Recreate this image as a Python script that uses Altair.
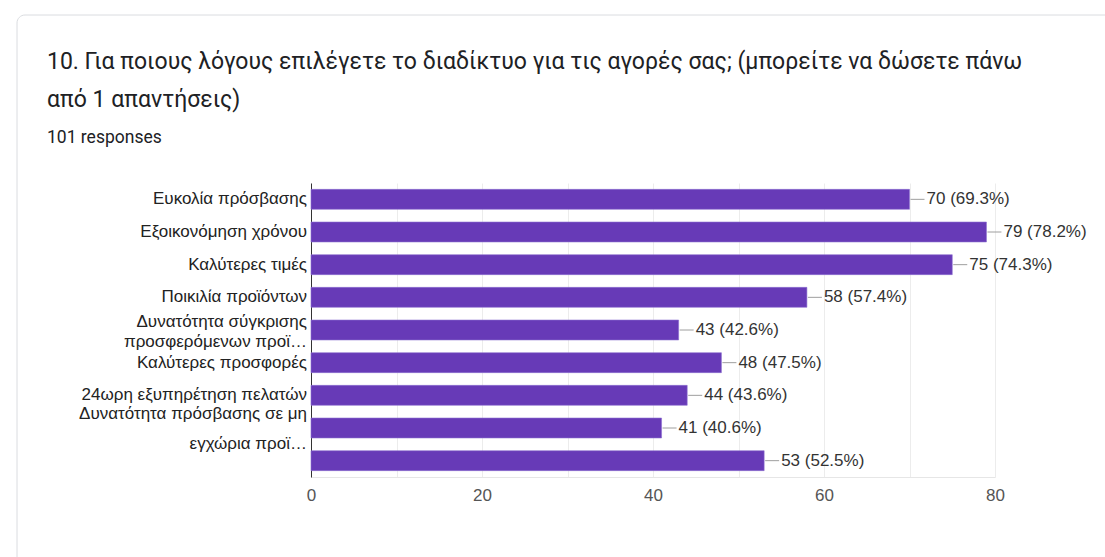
import altair as alt
import pandas as pd

title_lines = [
    "10. Για ποιους λόγους επιλέγετε το διαδίκτυο για τις αγορές σας; (μπορείτε να δώσετε πάνω",
    "από 1 απαντήσεις)",
]
subtitle = "101 responses"

keys = ["c1", "c2", "c3", "c4", "c5", "c6", "c7", "c8", "c9"]
labels = [
    "Ευκολία πρόσβασης",
    "Εξοικονόμηση χρόνου",
    "Καλύτερες τιμές",
    "Ποικιλία προϊόντων",
    "Δυνατότητα σύγκρισης\nπροσφερόμενων προϊ…",
    "Καλύτερες προσφορές",
    "24ωρη εξυπηρέτηση πελατών",
    "Δυνατότητα πρόσβασης σε μη\nεγχώρια προϊ…",
    "",
]
counts = [70, 79, 75, 58, 43, 48, 44, 41, 53]
percents = [69.3, 78.2, 74.3, 57.4, 42.6, 47.5, 43.6, 40.6, 52.5]
wide_spacing = [False, False, False, False, False, False, False, True, False]

df = pd.DataFrame({
    "key": keys,
    "label": labels,
    "count": counts,
    "pct": percents,
    "wide": wide_spacing,
})
df["vlabel"] = [f"{c} ({p}%)" for c, p in zip(counts, percents)]

FONT = "Liberation Sans"
PURPLE = "#673ab7"
FS = 17

y_enc = alt.Y(
    "key:N",
    sort=keys,
    scale=alt.Scale(paddingInner=0.39, paddingOuter=0.195),
    axis=alt.Axis(labels=False, ticks=False, title=None, domain=True,
                  domainColor="#333333", domainWidth=1, grid=False),
)
x_scale = alt.Scale(domain=[0, 80], nice=False)

base = alt.Chart(df)

bars = base.mark_bar(color=PURPLE, stroke="#8c6fd0", strokeWidth=0.6).encode(
    x=alt.X(
        "count:Q",
        scale=x_scale,
        axis=alt.Axis(
            values=[0, 10, 20, 30, 40, 50, 60, 70, 80],
            labelExpr="datum.value % 20 == 0 ? datum.label : ''",
            title=None,
            ticks=False,
            domain=True,
            domainColor="#e6e6e6",
            grid=True,
            gridColor="#ececec",
            labelFont=FONT,
            labelFontSize=FS,
            labelColor="#555555",
            labelPadding=10,
            labelFlush=False,
        ),
    ),
    y=y_enc,
)

leaders = base.mark_rule(color="#9e9e9e", strokeWidth=1, xOffset=1, x2Offset=15).encode(
    x=alt.X("count:Q", scale=x_scale),
    x2="count:Q",
    y=alt.Y("key:N", sort=keys),
)

values = base.mark_text(align="left", baseline="middle", dx=17, font=FONT,
                        fontSize=FS, color="#333333").encode(
    x=alt.X("count:Q", scale=x_scale),
    y=alt.Y("key:N", sort=keys),
    text="vlabel:N",
)

cat_single = base.transform_filter("!datum.wide && indexof(datum.label, '\\n') < 0").mark_text(
    align="right", baseline="middle", font=FONT, fontSize=FS, color="#222222",
).encode(
    x=alt.value(-4),
    y=alt.Y("key:N", sort=keys),
    text="label:N",
)

cat_double = base.transform_filter("!datum.wide && indexof(datum.label, '\\n') >= 0").mark_text(
    align="right", baseline="middle", font=FONT, fontSize=FS, color="#222222",
    lineBreak="\n", lineHeight=20, dy=-8,
).encode(
    x=alt.value(-4),
    y=alt.Y("key:N", sort=keys),
    text="label:N",
)

cat_wide = base.transform_filter("datum.wide").mark_text(
    align="right", baseline="middle", font=FONT, fontSize=FS, color="#222222",
    lineBreak="\n", lineHeight=30, dy=-14,
).encode(
    x=alt.value(-4),
    y=alt.Y("key:N", sort=keys),
    text="label:N",
)

one = pd.DataFrame({"t": ["\n".join(title_lines)], "s": [subtitle]})
card = alt.Chart(one).mark_rect(
    filled=False, stroke="#dadce0", strokeWidth=1, cornerRadius=8
).encode(
    x=alt.value(-294), y=alt.value(-168), x2=alt.value(830), y2=alt.value(420)
)
title_mark = alt.Chart(one).mark_text(
    align="left", baseline="middle", font="Roboto", fontSize=23,
    color="#202124", lineBreak="\n", lineHeight=38,
).encode(x=alt.value(-264), y=alt.value(-121), text="t:N")
sub_mark = alt.Chart(one).mark_text(
    align="left", baseline="middle", font="Roboto", fontSize=17.5,
    color="#202124",
).encode(x=alt.value(-264), y=alt.value(-45), text="s:N")

chart = alt.layer(
    card, title_mark, sub_mark, bars, leaders, values, cat_single, cat_double, cat_wide
).properties(
    width=684,
    height=294,
    padding={"left": 311, "top": 183, "right": 110, "bottom": 80},
    autosize=alt.AutoSizeParams(type="none"),
    background="white",
).configure_view(stroke=None)

chart.save("out.html", embed_options={"renderer": "svg", "actions": False})
